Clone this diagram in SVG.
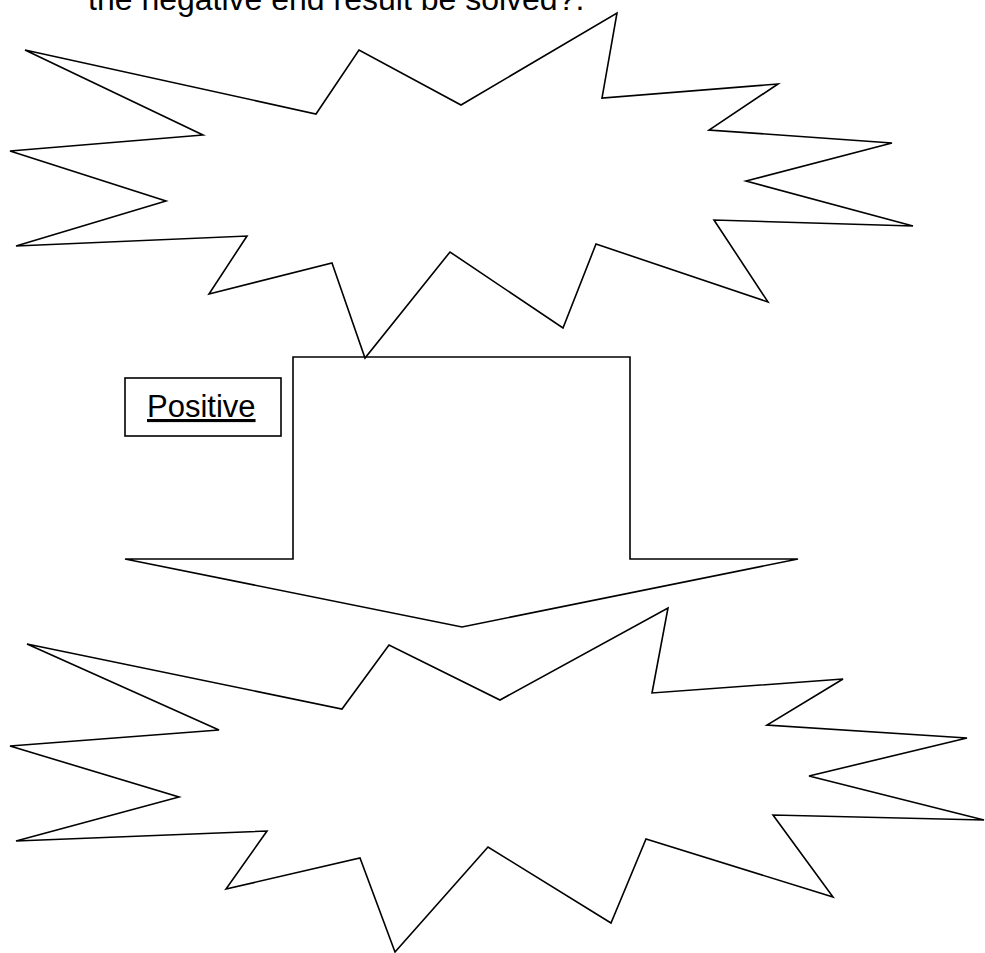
<svg xmlns="http://www.w3.org/2000/svg" width="985" height="953" viewBox="0 0 985 953">
<style>
.sh{fill:#fff;stroke:#000;stroke-width:1.6;stroke-linejoin:miter;stroke-miterlimit:4}
.t{font-family:"Liberation Sans",Arial,sans-serif;fill:#000}
</style>
<rect width="985" height="953" fill="#fff"/>
<g id="title"><text class="t" x="88" y="10" font-size="32">the negative end result be solved?.</text></g>
<g id="arrow"><polygon class="sh" points="293,357 630,357 630,559 798,559 462,627 125,559 293,559"/></g>
<g id="burst-top"><polygon class="sh" points="25,50 316,114 359,50 461,105 617,13 602,98 778,84 709,130 892,143 746,181 913,226 714,220 768,302 596,244 563,328 450,252 365,358 332,263 209,294 247,236 16,246 166,201 10,151 203,135"/></g>
<g id="burst-bottom"><polygon class="sh" points="27,644 342,709 389,645 500,700 668,608 652,693 843,679 767,725 967,738 809,776 984,820 773,815 833,897 646,839 611,923 488,847 395,952 360,858 226,889 267,831 16,841 179,797 10,746 219,730"/></g>
<g id="positive"><rect class="sh" x="125" y="378" width="156" height="58"/><text class="t" x="147" y="417" font-size="31" text-decoration="underline">Positive</text></g>
<g id="connectors"/>
</svg>
